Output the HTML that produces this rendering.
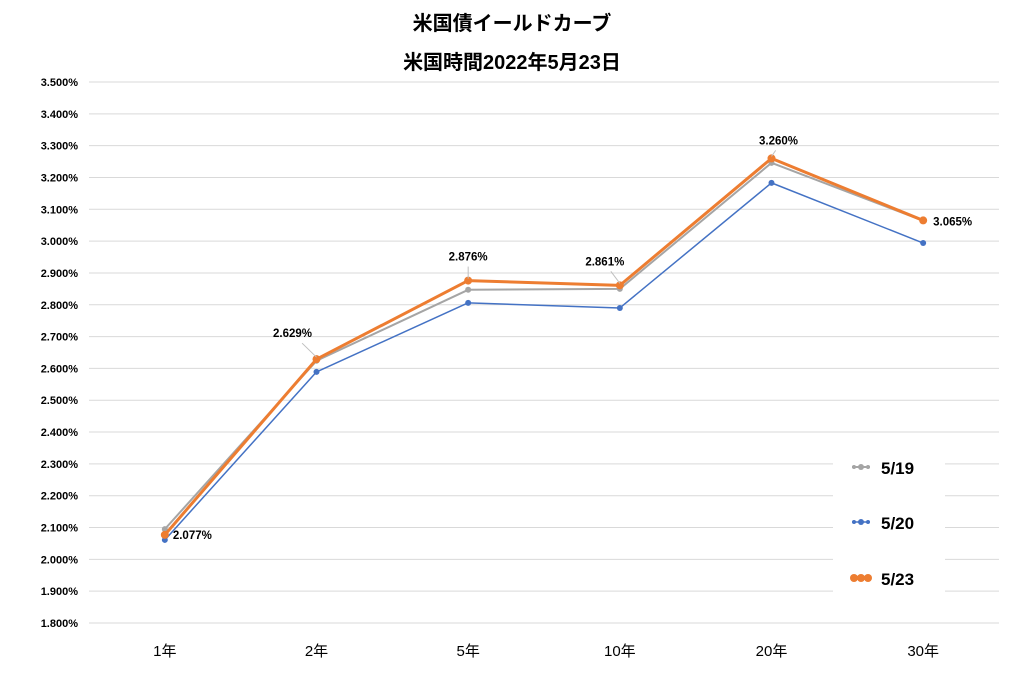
<!DOCTYPE html>
<html><head><meta charset="utf-8"><style>
body{margin:0;background:#fff;}
svg{display:block;font-family:"Liberation Sans","Noto Sans CJK JP",sans-serif;}
</style></head><body>
<svg id="c" width="1024" height="688">
<text x="512" y="30" text-anchor="middle" font-size="20" font-weight="bold">米国債イールドカーブ</text>
<text x="512" y="69" text-anchor="middle" font-size="20" font-weight="bold">米国時間2022年5月23日</text>
<g id="grid"></g><g id="series"></g><g id="labels"></g>
<g>
<rect x="833" y="445" width="112" height="155" fill="#fff"/>
<g><line x1="852" y1="467" x2="870" y2="467" stroke="#a5a5a5" stroke-width="2"/><circle cx="861" cy="467" r="3" fill="#a5a5a5"/><circle cx="854" cy="467" r="2" fill="#a5a5a5"/><circle cx="868" cy="467" r="2" fill="#a5a5a5"/><text x="881" y="474" font-size="17" font-weight="bold">5/19</text></g>
<g><line x1="852" y1="522" x2="870" y2="522" stroke="#4472c4" stroke-width="1.5"/><circle cx="861" cy="522" r="3" fill="#4472c4"/><circle cx="854" cy="522" r="2" fill="#4472c4"/><circle cx="868" cy="522" r="2" fill="#4472c4"/><text x="881" y="529" font-size="17" font-weight="bold">5/20</text></g>
<g><line x1="852" y1="578" x2="870" y2="578" stroke="#ed7d31" stroke-width="3"/><circle cx="861" cy="578" r="4" fill="#ed7d31"/><circle cx="854" cy="578" r="4" fill="#ed7d31"/><circle cx="868" cy="578" r="4" fill="#ed7d31"/><text x="881" y="585" font-size="17" font-weight="bold">5/23</text></g>
</g>
</svg>
<script>
const categories=["1年","2年","5年","10年","20年","30年"];
const s0519=[2.095,2.624,2.847,2.850,3.246,3.064];
const s0520=[2.061,2.589,2.806,2.790,3.183,2.994];
const s0523=[2.077,2.629,2.876,2.861,3.260,3.065];
const yTicks=[1.8,1.9,2.0,2.1,2.2,2.3,2.4,2.5,2.6,2.7,2.8,2.9,3.0,3.1,3.2,3.3,3.4,3.5];
const NS="http://www.w3.org/2000/svg";
const X0=89,X1=999,Y0=623,Y1=82,YMIN=1.8,YMAX=3.5;
const x=i=>X0+(i+0.5)*(X1-X0)/categories.length;
const y=v=>Y0-(v-YMIN)/(YMAX-YMIN)*(Y0-Y1);
function mk(t,a,p){const e=document.createElementNS(NS,t);for(const k in a)e.setAttribute(k,a[k]);p.appendChild(e);return e;}
const grid=document.getElementById('grid');
yTicks.forEach(v=>{
 const l=mk('line',{x1:X0,x2:X1,y1:y(v),y2:y(v),stroke:'#d9d9d9','stroke-width':1},grid);
 
 
 const t=mk('text',{x:78,y:y(v)+4,'text-anchor':'end','font-size':11,'font-weight':'bold'},grid);
 t.textContent=v.toFixed(3)+'%';
 
 
});
categories.forEach((c,i)=>{
 const t=mk('text',{x:x(i),y:656,'text-anchor':'middle','font-size':15},grid);
 t.textContent=c;
 
 
});
const sg=document.getElementById('series');
function series(vals,col,w,r,name){
 const g=mk('g',{},sg);
 
 
 mk('polyline',{points:vals.map((v,i)=>x(i)+','+y(v)).join(' '),fill:'none',stroke:col,'stroke-width':w,'stroke-linejoin':'round'},g);
 vals.forEach((v,i)=>{const p=mk('circle',{cx:x(i),cy:y(v),r:r,fill:col},g);
  
  });
}
series(s0519,'#a5a5a5',2,3,'series-5-19');
series(s0520,'#4472c4',1.5,3,'series-5-20');
series(s0523,'#ed7d31',3,4,'series-5-23');
const lg=document.getElementById('labels');
const offs=[[8,4,'start',0],[-24,-22,'middle',1],[0,-20,'middle',1],[-15,-20,'middle',1],[7,-14,'middle',1],[10,5,'start',0]];
s0523.forEach((v,i)=>{
 const o=offs[i],px=x(i),py=y(v);
 if(o[3]) mk('line',{x1:px,y1:py-2,x2:px+o[0]*0.6,y2:py+o[1]+6,stroke:'#bfbfbf','stroke-width':1},lg);
 const t=mk('text',{x:px+o[0],y:py+o[1],'text-anchor':o[2],'font-size':11.5,'font-weight':'bold'},lg);
 t.textContent=v.toFixed(3)+'%';
 
 
});
</script>
</body></html>
